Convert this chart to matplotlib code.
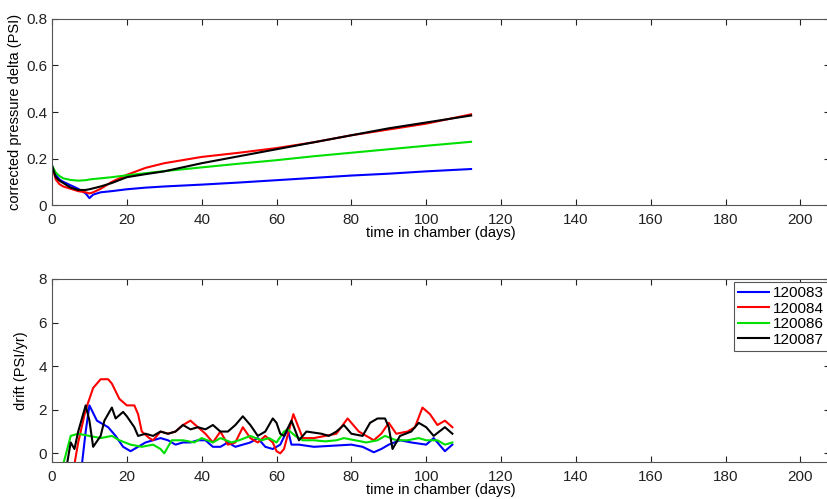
import matplotlib.pyplot as plt
import numpy as np

plt.rcParams['font.family'] = ['Liberation Sans', 'DejaVu Sans']

names = ['120083', '120084', '120086', '120087']
colors = ['#0000ff', '#ff0000', '#00e000', '#000000']

# top panel: corrected pressure delta (PSI) vs days
top_days = [0, 1, 2, 3, 5, 7, 9, 10, 11, 13, 16, 20, 25, 30, 40, 50, 60, 70, 80, 90, 100, 112]
top_blue = [0.17, 0.13, 0.11, 0.10, 0.085, 0.07, 0.05, 0.03, 0.045, 0.055, 0.06, 0.068, 0.075, 0.08, 0.088, 0.097, 0.107, 0.117, 0.127, 0.135, 0.145, 0.155]
top_red = [0.17, 0.11, 0.09, 0.08, 0.07, 0.06, 0.055, 0.05, 0.055, 0.07, 0.10, 0.13, 0.16, 0.18, 0.207, 0.225, 0.245, 0.27, 0.30, 0.325, 0.35, 0.39]
top_green = [0.17, 0.14, 0.125, 0.115, 0.108, 0.105, 0.107, 0.11, 0.112, 0.115, 0.12, 0.128, 0.137, 0.146, 0.162, 0.178, 0.193, 0.21, 0.225, 0.24, 0.255, 0.272]
top_black = [0.17, 0.12, 0.105, 0.095, 0.075, 0.065, 0.065, 0.068, 0.072, 0.08, 0.095, 0.12, 0.133, 0.145, 0.18, 0.21, 0.24, 0.27, 0.30, 0.33, 0.355, 0.385]

# bottom panel: drift (PSI/yr)
blue_days = [8, 9, 10, 12, 15, 17, 19, 21, 23, 25, 27, 29, 31, 33, 35, 37, 39, 41, 43, 45, 47, 49, 51, 53, 55, 57, 59, 61, 63, 64, 66, 70, 75, 80, 83, 86, 88, 90, 93, 96, 100, 102, 104, 105, 107]
blue_drift = [-0.5, 1.0, 2.2, 1.5, 1.2, 0.8, 0.3, 0.1, 0.3, 0.5, 0.6, 0.7, 0.6, 0.4, 0.5, 0.5, 0.6, 0.6, 0.3, 0.3, 0.5, 0.3, 0.4, 0.5, 0.7, 0.3, 0.2, 0.4, 1.1, 0.4, 0.4, 0.3, 0.35, 0.4, 0.3, 0.05, 0.2, 0.4, 0.6, 0.5, 0.4, 0.7, 0.3, 0.1, 0.4]
red_days = [6, 7, 9, 11, 13, 15, 16, 18, 20, 22, 23, 24, 26, 27, 29, 31, 33, 35, 37, 39, 41, 43, 45, 47, 49, 51, 53, 55, 57, 59, 60, 61, 62, 64.5, 67, 70, 73, 76, 79, 82, 84, 86, 88, 90, 92, 95, 97, 99, 101, 103, 105, 107]
red_drift = [-0.5, 0.5, 2.0, 3.0, 3.4, 3.4, 3.2, 2.5, 2.2, 2.2, 1.8, 1.0, 0.7, 0.6, 1.0, 0.9, 1.0, 1.3, 1.5, 1.2, 0.9, 0.5, 1.0, 0.4, 0.5, 1.2, 0.7, 0.5, 0.8, 0.5, 0.1, 0.0, 0.2, 1.8, 0.7, 0.7, 0.8, 0.9, 1.6, 1.0, 0.8, 0.6, 0.9, 1.4, 0.9, 1.0, 1.2, 2.1, 1.8, 1.3, 1.5, 1.2]
green_days = [3, 5, 7, 10, 13, 16, 18, 21, 24, 27, 29, 30, 32, 35, 38, 40, 43, 45, 48, 50, 53, 56, 58, 60, 62, 63, 65, 67, 70, 73, 76, 78, 81, 84, 87, 89, 92, 95, 98, 100, 103, 105, 107]
green_drift = [-0.5, 0.8, 0.9, 0.8, 0.7, 0.8, 0.6, 0.4, 0.3, 0.4, 0.2, 0.0, 0.6, 0.6, 0.5, 0.7, 0.5, 0.7, 0.5, 0.6, 0.8, 0.6, 0.7, 0.5, 1.0, 1.1, 0.8, 0.6, 0.6, 0.55, 0.6, 0.7, 0.6, 0.5, 0.6, 0.8, 0.6, 0.6, 0.7, 0.6, 0.6, 0.4, 0.5]
black_days = [4, 5, 6, 7, 9, 10, 11, 13, 14, 16, 17, 19, 20, 22, 23, 25, 27, 29, 31, 33, 35, 37, 39, 41, 43, 45, 47, 49, 51, 53, 55, 57, 59, 60, 61, 62, 64, 66, 68, 72, 74, 76, 78, 80, 83, 85, 87, 89, 90, 91, 93, 96, 98, 100, 102, 105, 107]
black_drift = [-0.5, 0.5, 0.2, 1.0, 2.2, 1.5, 0.3, 0.8, 1.5, 2.1, 1.6, 1.9, 1.7, 1.2, 0.8, 0.9, 0.8, 1.0, 0.9, 1.0, 1.3, 1.1, 1.2, 1.1, 1.3, 1.0, 1.0, 1.3, 1.7, 1.3, 0.8, 1.0, 1.6, 1.4, 0.9, 0.8, 1.5, 0.6, 1.0, 0.9, 0.8, 1.0, 1.3, 0.9, 0.8, 1.4, 1.6, 1.6, 1.2, 0.2, 0.8, 1.0, 1.4, 1.2, 0.8, 1.2, 0.9]

x_ticks = list(range(0, 201, 20))

fig = plt.figure(figsize=(8.28, 4.99), dpi=100)
ax1 = fig.add_axes([0.0628, 0.589, 0.94, 0.373])
ax2 = fig.add_axes([0.0628, 0.074, 0.94, 0.367])

for ys, c in zip([top_blue, top_red, top_green, top_black], colors):
    ax1.plot(top_days, ys, color=c, lw=1.5)

bottom = [(blue_days, blue_drift), (red_days, red_drift), (green_days, green_drift), (black_days, black_drift)]
for (d, v), c, n in zip(bottom, colors, names):
    ax2.plot(d, v, color=c, lw=1.5, label=n)

for ax in (ax1, ax2):
    ax.set_xlim(0, 208)
    ax.set_xticks(x_ticks)
    ax.tick_params(direction='in', top=True, right=True, labelsize=11, colors='#222222', length=4)
    ax.tick_params(axis='x', pad=6)
    for s in ax.spines.values():
        s.set_color('#555555')
    ax.spines['right'].set_visible(False)
    ax.set_xlabel('time in chamber (days)', fontsize=10.5, labelpad=-1)

ax1.set_ylim(0, 0.8)
ax1.set_yticks([0, 0.2, 0.4, 0.6, 0.8])
ax1.set_yticklabels(['0', '0.2', '0.4', '0.6', '0.8'])
ax1.set_ylabel('corrected pressure delta (PSI)', fontsize=10.5, labelpad=3)

ax2.set_ylim(-0.4, 8)
ax2.set_yticks([0, 2, 4, 6, 8])
ax2.set_ylabel('drift (PSI/yr)', fontsize=10.5, labelpad=8)

leg = ax2.legend(loc='upper right', bbox_to_anchor=(1.0, 0.434), bbox_transform=fig.transFigure,
                 fontsize=11, fancybox=False, framealpha=1, handlelength=2.0,
                 borderaxespad=0, labelspacing=0.1, handletextpad=0.3, borderpad=0.25)
leg.get_frame().set_edgecolor('#555555')
leg.get_frame().set_linewidth(0.8)

fig.savefig('out.png', dpi=100)
